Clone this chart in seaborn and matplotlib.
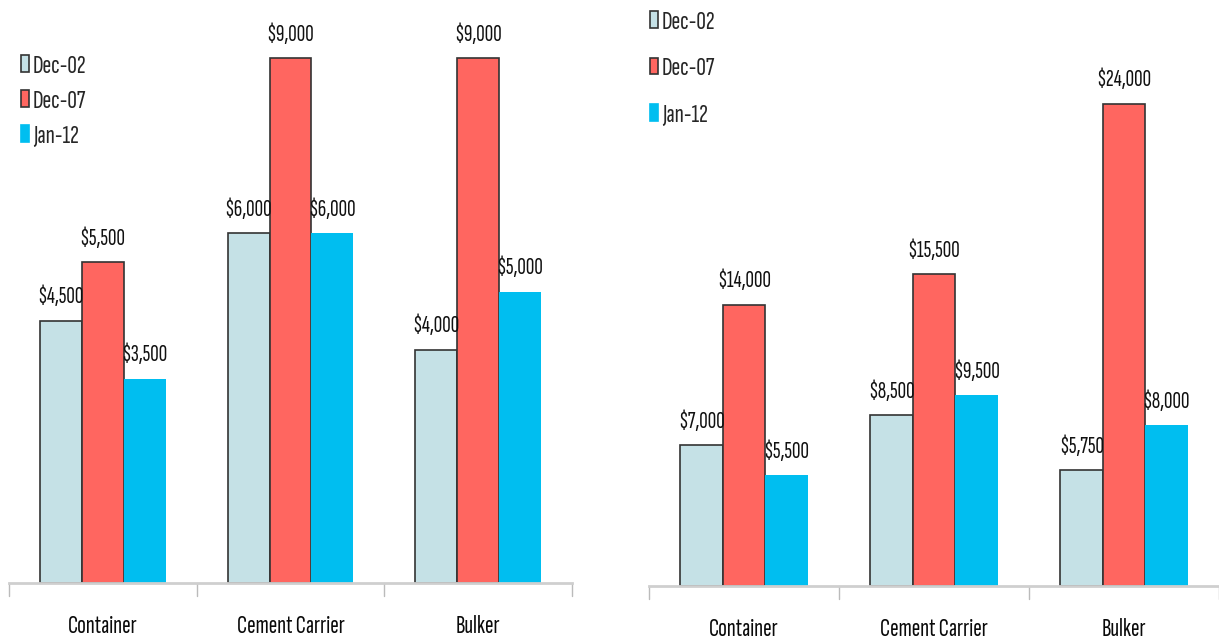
import matplotlib
matplotlib.use("Agg")
import matplotlib.pyplot as plt
from matplotlib.patches import Patch
import seaborn as sns
import pandas as pd

categories = ["Container", "Cement Carrier", "Bulker"]
periods = ["Dec-02", "Dec-07", "Jan-12"]

# left panel values (USD)
left_dec02 = [4500, 6000, 4000]
left_dec07 = [5500, 9000, 9000]
left_jan12 = [3500, 6000, 5000]

# right panel values (USD)
right_dec02 = [7000, 8500, 5750]
right_dec07 = [14000, 15500, 24000]
right_jan12 = [5500, 9500, 8000]

colors = ["#C5E1E6", "#FF6660", "#00BEF0"]
edges = ["#333333", "#333333", "none"]

sns.set_theme(style="white")
plt.rcParams["font.family"] = ["Sofia Sans Extra Condensed", "Pathway Gothic One", "DejaVu Sans"]


def make_frame(a, b, c):
    rows = []
    for series, vals in zip(periods, (a, b, c)):
        for cat, v in zip(categories, vals):
            rows.append({"category": cat, "period": series, "value": v})
    return pd.DataFrame(rows)


def draw(ax, df, ymax, legend_anchor, legend_gap):
    sns.barplot(data=df, x="category", y="value", hue="period",
                order=categories, hue_order=periods, palette=colors,
                width=0.67, gap=0, ax=ax, legend=False, saturation=1)
    for cont, ec in zip(ax.containers, edges):
        for p in cont:
            if ec == "none":
                p.set_edgecolor("none")
                p.set_linewidth(0)
            else:
                p.set_edgecolor(ec)
                p.set_linewidth(1.2)
        vals = [p.get_height() for p in cont]
        ax.bar_label(cont, labels=[f"${v:,.0f}" for v in vals], padding=9,
                     fontsize=17, color="#111111")
    ax.set_ylim(0, ymax)
    ax.set_xlim(-0.5, 2.5)
    ax.set_xlabel("")
    ax.set_ylabel("")
    ax.set_yticks([])
    for s in ["top", "right", "left"]:
        ax.spines[s].set_visible(False)
    ax.spines["bottom"].set_color("#cfcfcf")
    ax.spines["bottom"].set_linewidth(2)
    ax.set_xticks([0, 1, 2])
    ax.set_xticklabels(categories, fontsize=18.5, color="#0a0a0a")
    ax.tick_params(axis="x", length=0, pad=23)
    # category boundary ticks
    for xb in [-0.5, 0.5, 1.5, 2.5]:
        ax.plot([xb, xb], [0, -0.022 * ymax], color="#bbbbbb", lw=1,
                clip_on=False)
    handles = [Patch(facecolor=c, edgecolor=("#333333" if e != "none" else c),
                     linewidth=1.2) for c, e in zip(colors, edges)]
    ax.legend(handles, periods, loc="upper left", bbox_to_anchor=legend_anchor,
              frameon=False, fontsize=19, handlelength=0.3, handleheight=0.6,
              handletextpad=0.15, labelspacing=legend_gap, borderaxespad=0,
              borderpad=0)


fig = plt.figure(figsize=(12.19, 6.41), dpi=100)
W, H = 1219, 641
ax1 = fig.add_axes([9 / W, (H - 583) / H, 563 / W, 583 / H])
ax2 = fig.add_axes([649 / W, (H - 586) / H, 570 / W, 583 / H])

draw(ax1, make_frame(left_dec02, left_dec07, left_jan12), 10000,
     (0.021, 0.906), 0.45)
draw(ax2, make_frame(right_dec02, right_dec07, right_jan12), 29000,
     (0.002, 0.987), 0.9)

fig.savefig("out.png", dpi=100)
